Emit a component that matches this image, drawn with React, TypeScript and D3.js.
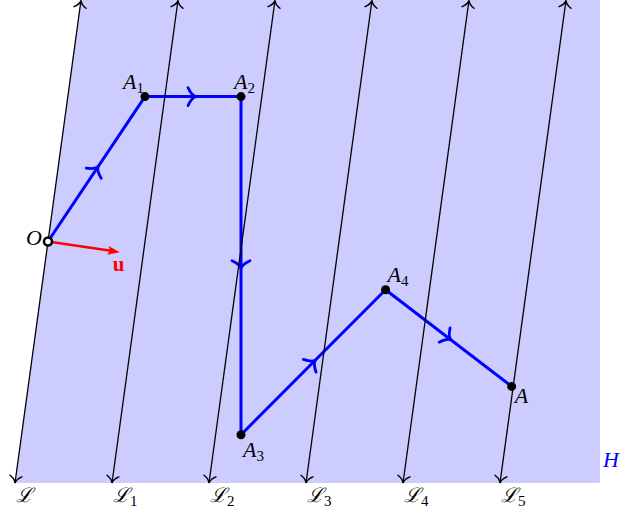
import React from "react";
import * as d3 from "d3";

// ---- data (in plane units) ----
const lineOffsets = [0, 1, 2, 3, 4, 5];
const lineNames = ["ℒ", "ℒ", "ℒ", "ℒ", "ℒ", "ℒ"];
const lineSubs = ["", "1", "2", "3", "4", "5"];
const lineLean = 0.68; // x shift of each line from y=0 to y=5
const yBottom = 0;
const yTop = 5;
const regionRight = 6.03;

const pointNames = ["O", "A", "A", "A", "A", "A"];
const pointSubs = ["", "1", "2", "3", "4", ""];
const pointX = [0.34, 1.34, 2.33, 2.33, 3.82, 5.12];
const pointY = [2.5, 4.0, 4.0, 0.5, 2.0, 1.0];
const pointLabelDir = ["w", "nw", "n", "se", "ne", "e"];

const uTip = [1.08, 2.39];

const W = 621;
const H = 515;

const xs = d3.scaleLinear().domain([0, 6]).range([15, 597]);
const ys = d3.scaleLinear().domain([0, 5]).range([483, 0]);

function toArrow(tx: number, ty: number, dx: number, dy: number, len: number, w: number) {
  const m = Math.hypot(dx, dy);
  dx /= m;
  dy /= m;
  const nx = -dy, ny = dx;
  const bx = tx - dx * len, by = ty - dy * len;
  const p1 = [bx + nx * w, by + ny * w];
  const p2 = [bx - nx * w, by - ny * w];
  const c1 = [bx + dx * len * 0.45 + nx * w * 0.12, by + dy * len * 0.45 + ny * w * 0.12];
  const c2 = [bx + dx * len * 0.45 - nx * w * 0.12, by + dy * len * 0.45 - ny * w * 0.12];
  return `M${p1[0]},${p1[1]} Q${c1[0]},${c1[1]} ${tx},${ty} Q${c2[0]},${c2[1]} ${p2[0]},${p2[1]}`;
}

function latexHead(tx: number, ty: number, dx: number, dy: number, len: number, w: number) {
  const m = Math.hypot(dx, dy);
  dx /= m;
  dy /= m;
  const nx = -dy, ny = dx;
  const bx = tx - dx * len, by = ty - dy * len;
  const ix = tx - dx * len * 0.8, iy = ty - dy * len * 0.8;
  return `M${tx},${ty} L${bx + nx * w},${by + ny * w} L${ix},${iy} L${bx - nx * w},${by - ny * w} Z`;
}

const FONT = "'Liberation Serif', 'DejaVu Serif', serif";

export default function App() {
  const pts = pointX.map((x, i) => ({ x: xs(x), y: ys(pointY[i]) }));
  const pathD = d3.line<{ x: number; y: number }>().x((d) => d.x).y((d) => d.y)(pts) as string;

  const region = [
    [xs(0), ys(yBottom)],
    [xs(lineLean), ys(yTop)],
    [xs(regionRight), ys(yTop)],
    [xs(regionRight), ys(yBottom)],
  ];

  const labelOffset: Record<string, [number, number, string]> = {
    w: [-6, 3, "end"],
    nw: [-1, -8, "end"],
    n: [-7, -8, "start"],
    se: [2, 22, "start"],
    ne: [2, -8, "start"],
    e: [3, 17, "start"],
  };

  const O = pts[0];
  const ut = { x: xs(uTip[0]), y: ys(uTip[1]) };
  const udx = ut.x - O.x, udy = ut.y - O.y;
  const ulen = Math.hypot(udx, udy);

  return (
    <svg
      width={W}
      height={H}
      style={{ position: "fixed", left: 0, top: 0, background: "#fff" }}
    >
      <polygon points={region.map((p) => p.join(",")).join(" ")} fill="#ccccff" />

      {/* path */}
      <path d={pathD} fill="none" stroke="#0000ff" strokeWidth={3} strokeLinejoin="round" />
      {pts.slice(1).map((p, i) => {
        const a = pts[i];
        const dx = p.x - a.x, dy = p.y - a.y;
        const m = Math.hypot(dx, dy);
        const tx = (a.x + p.x) / 2 + (dx / m) * 3;
        const ty = (a.y + p.y) / 2 + (dy / m) * 3;
        return (
          <path
            key={"ma" + i}
            d={toArrow(tx, ty, dx, dy, 8, 9)}
            fill="none"
            stroke="#0000ff"
            strokeWidth={2.8}
            strokeLinecap="round"
          />
        );
      })}

      {/* lines */}
      {lineOffsets.map((k, i) => {
        const x0 = xs(k), y0 = ys(yBottom);
        const x1 = xs(k + lineLean), y1 = ys(yTop) + 0.5;
        return (
          <g key={"l" + i}>
            <line x1={x0} y1={y0} x2={x1} y2={y1} stroke="#000" strokeWidth={1.3} />
            <path d={toArrow(x1, y1, x1 - x0, y1 - y0, 7, 6)} fill="none" stroke="#000" strokeWidth={1.5} strokeLinecap="round" />
            <path d={toArrow(x0, y0, x0 - x1, y0 - y1, 7, 6)} fill="none" stroke="#000" strokeWidth={1.5} strokeLinecap="round" />
            <text x={x0 + 1} y={y0 + 19} fontFamily={FONT} fontStyle="italic" fontSize={20} fill="#000">
              {lineNames[i]}
              {lineSubs[i] && (
                <tspan fontStyle="normal" fontSize={15} dy={4}>
                  {lineSubs[i]}
                </tspan>
              )}
            </text>
          </g>
        );
      })}

      {/* u vector */}
      <line
        x1={O.x}
        y1={O.y}
        x2={ut.x - (udx / ulen) * 9}
        y2={ut.y - (udy / ulen) * 9}
        stroke="#ff0000"
        strokeWidth={2.5}
      />
      <path d={latexHead(ut.x, ut.y, udx, udy, 12, 4.5)} fill="#ff0000" />
      <text x={ut.x - 7} y={ut.y + 19} fontFamily={FONT} fontWeight="bold" fontSize={21} fill="#ff0000">
        u
      </text>

      {/* points */}
      {pts.map((p, i) =>
        i === 0 ? (
          <circle key={"p" + i} cx={p.x} cy={p.y} r={4} fill="#fff" stroke="#000" strokeWidth={2.5} />
        ) : (
          <circle key={"p" + i} cx={p.x} cy={p.y} r={4.5} fill="#000" />
        )
      )}
      {pts.map((p, i) => {
        const [ox, oy, anchor] = labelOffset[pointLabelDir[i]];
        return (
          <text
            key={"t" + i}
            x={p.x + ox}
            y={p.y + oy}
            textAnchor={anchor}
            fontFamily={FONT}
            fontStyle="italic"
            fontSize={22}
            fill="#000"
          >
            {pointNames[i]}
            {pointSubs[i] && (
              <tspan fontStyle="normal" fontSize={15} dy={4}>
                {pointSubs[i]}
              </tspan>
            )}
          </text>
        );
      })}

      <text x={xs(regionRight) + 3} y={ys(yBottom) - 16} fontFamily={FONT} fontStyle="italic" fontSize={22} fill="#0000ff">
        H
      </text>
    </svg>
  );
}
